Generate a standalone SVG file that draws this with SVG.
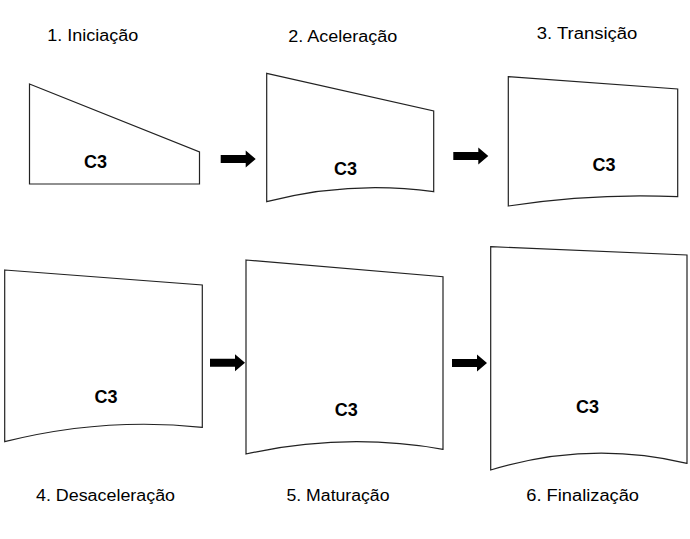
<svg xmlns="http://www.w3.org/2000/svg" xmlns:xlink="http://www.w3.org/1999/xlink" width="690" height="539" viewBox="0 0 690 539">
<defs>
<style>
.shape{fill:#fff;stroke:#222;stroke-width:1.2;stroke-linejoin:miter}
.c3{font-family:"Liberation Sans",Arial,sans-serif;font-weight:bold;font-size:18px;fill:#000;text-anchor:middle}
.lbl{font-family:"Liberation Sans",Arial,sans-serif;font-size:16px;fill:#000}
.arr{fill:#000}
</style>
<path id="arrow" class="arr" d="M0,-4 H25 V-8.5 L35,0 L25,8.5 V4 H0 Z"/>
</defs>
<rect width="690" height="539" fill="#fff"/>
<g id="node1">
<path class="shape" d="M29.5,84 L199.5,152 L199.5,184 L29.5,184 Z"/>
<text class="c3" x="95.5" y="168">C3</text>
<text class="lbl" x="47.3" y="41" textLength="91" lengthAdjust="spacingAndGlyphs">1. Iniciação</text>
</g>
<g id="node2">
<path class="shape" d="M266.7,73.3 L433.7,111 L433.7,191.7 Q350,180 266.7,201.7 Z"/>
<text class="c3" x="345.5" y="175">C3</text>
<text class="lbl" x="288.3" y="41.7" textLength="109" lengthAdjust="spacingAndGlyphs">2. Aceleração</text>
</g>
<g id="node3">
<path class="shape" d="M508.3,76.7 L677.7,89 L677.7,196.7 Q593,193 508.3,206 Z"/>
<text class="c3" x="604" y="170.7">C3</text>
<text class="lbl" x="536.7" y="38.7" textLength="100.6" lengthAdjust="spacingAndGlyphs">3. Transição</text>
</g>
<g id="node4">
<path class="shape" d="M4.7,270 L202.3,285 L202.3,427.3 Q103,417 4.7,441.7 Z"/>
<text class="c3" x="106" y="402.7">C3</text>
<text class="lbl" x="36" y="501" textLength="139" lengthAdjust="spacingAndGlyphs">4. Desaceleração</text>
</g>
<g id="node5">
<path class="shape" d="M246,260 L443,276.7 L443,449.3 Q345,432 246,454 Z"/>
<text class="c3" x="346.3" y="416">C3</text>
<text class="lbl" x="286.5" y="501" textLength="103" lengthAdjust="spacingAndGlyphs">5. Maturação</text>
</g>
<g id="node6">
<path class="shape" d="M490.7,246.7 L687,255 L687,463.3 Q589,440 490.7,470 Z"/>
<text class="c3" x="587.5" y="413.3">C3</text>
<text class="lbl" x="526.3" y="501" textLength="112.7" lengthAdjust="spacingAndGlyphs">6. Finalização</text>
</g>
<g id="connectors">
<use xlink:href="#arrow" transform="translate(220.7,159)"/>
<use xlink:href="#arrow" transform="translate(453.3,156)"/>
<use xlink:href="#arrow" transform="translate(210,362.7)"/>
<use xlink:href="#arrow" transform="translate(452,363)"/>
</g>
</svg>
